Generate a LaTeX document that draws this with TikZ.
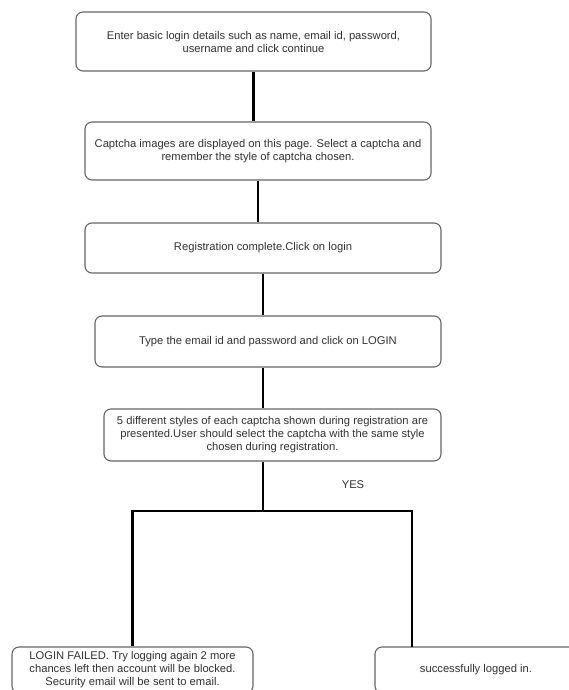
\documentclass[tikz,border=0pt]{standalone}
\usepackage{fontspec}
\setmainfont{Liberation Sans}
\usepackage{tikz}

\begin{document}
\begin{tikzpicture}[x=1pt,y=1pt,
  stepbox/.style={draw=black!60, line width=1.1pt, rounded corners=7pt, fill=white, align=center, inner sep=0pt, text=black!80, font=\fontsize{11.2}{13}\selectfont},
  link/.style={line width=2.8pt, black}]
\useasboundingbox (0,0) rectangle (568,-690);
\node[stepbox, minimum width=355pt, minimum height=59pt] (enter) at (253.5,-41.5) {Enter basic login details such as name, email id, password,\\username and click continue};
\node[stepbox, minimum width=346pt, minimum height=58pt] (captcha) at (258,-151) {Captcha images are displayed on this page. Select a captcha and\\remember the style of captcha chosen.};
\node[stepbox, minimum width=356pt, minimum height=50pt] (done) at (263,-248) {Registration complete.Click on login};
\node[stepbox, minimum width=346pt, minimum height=51pt] (typelogin) at (268,-341.5) {Type the email id and password and click on LOGIN};
\node[stepbox, minimum width=337pt, minimum height=52pt] (styles) at (272.5,-435) {5 different styles of each captcha shown during registration are\\presented.User should select the captcha with the same style\\chosen during registration.};
\node[stepbox, minimum width=241pt, minimum height=46pt] (failed) at (132.5,-670) {LOGIN FAILED. Try logging again 2 more\\chances left then account will be blocked.\\Security email will be sent to email.};
\node[stepbox, minimum width=202pt, minimum height=46pt] (loggedin) at (476,-670) {successfully logged in.};
\node[text=black!80, font=\fontsize{11.2}{13}\selectfont] (yes) at (353,-485) {YES};
\coordinate (split) at (263,-511);
\coordinate (okin) at (412,-647);
\draw[link] (enter.south) -- (enter.south |- captcha.north);
\draw[link] (captcha.south) -- (captcha.south |- done.north);
\draw[link] (done.south) -- (done.south |- typelogin.north);
\draw[link] (split |- typelogin.south) -- (split |- styles.north);
\draw[link] (split |- styles.south) -- (split);
\draw[link] (failed.north) |- (okin |- split) -- (okin);
\end{tikzpicture}
\end{document}
